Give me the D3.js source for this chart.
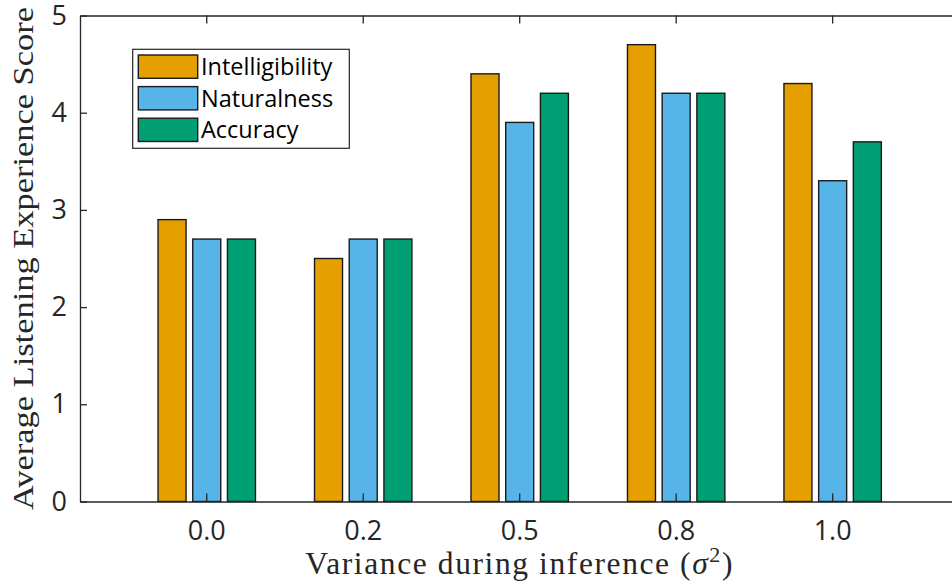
<!DOCTYPE html>
<html>
<head>
<meta charset="utf-8">
<script src="https://cdn.jsdelivr.net/npm/d3@7"></script>
<style>
  html, body { margin: 0; padding: 0; background: #fff; }
  svg { display: block; }
</style>
</head>
<body>
<svg id="chart" width="952" height="584"></svg>
<script>
// Variance levels used at inference time (x categories)
const categories = ["0.0", "0.2", "0.5", "0.8", "1.0"];
const seriesNames = ["Intelligibility", "Naturalness", "Accuracy"];
// Average listening experience scores per series, one value per category
const intelligibility = [2.9, 2.5, 4.4, 4.7, 4.3];
const naturalness     = [2.7, 2.7, 3.9, 4.2, 3.3];
const accuracy        = [2.7, 2.7, 4.2, 4.2, 3.7];
const yTicks = [0, 1, 2, 3, 4, 5];

const seriesValues = [intelligibility, naturalness, accuracy];
const colors = ["#E69F00", "#56B4E9", "#009E73"];

const svg = d3.select("#chart");
const plot = { left: 80, right: 959.4, top: 15.5, bottom: 501.5 };
const axisColor = "#262626";
const sans = "'Open Sans', 'Noto Sans', sans-serif";
const serif = "'Liberation Serif', 'DejaVu Serif', serif";

const x = d3.scaleBand()
  .domain(categories)
  .range([plot.left, plot.right])
  .paddingInner(0)
  .paddingOuter(0.31);

const xSub = d3.scaleBand()
  .domain(seriesNames)
  .range([-48.7, 48.7])
  .paddingInner(0.193)
  .paddingOuter(0);

const y = d3.scaleLinear().domain([0, 5]).range([plot.bottom, plot.top]);

// Bars
const rows = [];
categories.forEach((c, i) => {
  seriesNames.forEach((s, j) => rows.push({ cat: c, series: s, value: seriesValues[j][i], color: colors[j] }));
});

svg.append("g").selectAll("rect")
  .data(rows)
  .join("rect")
  .attr("x", d => x(d.cat) + x.bandwidth() / 2 + xSub(d.series))
  .attr("y", d => y(d.value))
  .attr("width", xSub.bandwidth())
  .attr("height", d => y(0) - y(d.value))
  .attr("fill", d => d.color)
  .attr("stroke", "#1a1a1a")
  .attr("stroke-width", 1.4);

// Axes (box with inward ticks)
function styleAxis(g) {
  g.select(".domain").attr("stroke", axisColor).attr("stroke-width", 1.3);
  g.selectAll(".tick line").attr("stroke", axisColor).attr("stroke-width", 1.3);
  g.selectAll(".tick text").attr("fill", "#262626");
}

const xAxis = svg.append("g")
  .attr("transform", `translate(0,${plot.bottom})`)
  .call(d3.axisBottom(x).tickSize(-8).tickSizeOuter(0).tickPadding(19.5))
  .call(styleAxis);
xAxis.selectAll(".tick text").attr("font-family", sans).attr("font-size", 27);

svg.append("g")
  .attr("transform", `translate(0,${plot.top})`)
  .call(d3.axisTop(x).tickSize(-8).tickSizeOuter(0).tickFormat(""))
  .call(styleAxis);

const yAxis = svg.append("g")
  .attr("transform", `translate(${plot.left},0)`)
  .call(d3.axisLeft(y).tickValues(yTicks).tickFormat(d3.format("d")).tickSize(-7).tickSizeOuter(0).tickPadding(13))
  .call(styleAxis);
yAxis.selectAll(".tick text").attr("font-family", sans).attr("font-size", 27);

svg.append("g")
  .attr("transform", `translate(${plot.right},0)`)
  .call(d3.axisRight(y).tickValues(yTicks).tickSize(-7).tickSizeOuter(0).tickFormat(""))
  .call(styleAxis);

// Axis titles
svg.append("text")
  .attr("transform", `translate(33,${(plot.top + plot.bottom) / 2}) rotate(-90)`)
  .attr("text-anchor", "middle")
  .attr("font-family", serif)
  .attr("font-size", 30)
  .attr("fill", "#262626")
  .attr("textLength", 503)
  .attr("lengthAdjust", "spacingAndGlyphs")
  .text("Average Listening Experience Score");

const xt = svg.append("text")
  .attr("x", (plot.left + plot.right) / 2)
  .attr("y", 574)
  .attr("text-anchor", "middle")
  .attr("font-family", serif)
  .attr("font-size", 31.5)
  .attr("letter-spacing", 1.6)
  .attr("fill", "#262626");
xt.append("tspan").text("Variance during inference (");
xt.append("tspan").attr("font-style", "italic").text("σ");
xt.append("tspan").attr("font-size", 22).attr("dy", -12).text("2");
xt.append("tspan").attr("dy", 12).text(")");

// Legend
const legend = svg.append("g");
legend.append("rect")
  .attr("x", 132.7).attr("y", 49.3)
  .attr("width", 216.6).attr("height", 99)
  .attr("fill", "#fff")
  .attr("stroke", "#262626")
  .attr("stroke-width", 1.2);

seriesNames.forEach((s, j) => {
  const top = 55 + j * 31.6;
  legend.append("rect")
    .attr("x", 138.3).attr("y", top)
    .attr("width", 59.4).attr("height", 23.3)
    .attr("fill", colors[j])
    .attr("stroke", "#1a1a1a")
    .attr("stroke-width", 1.4);
  legend.append("text")
    .attr("x", 201)
    .attr("y", top + 20)
    .attr("font-family", sans)
    .attr("font-size", 23.5)
    .attr("fill", "#000")
    .text(s);
});
</script>
</body>
</html>
